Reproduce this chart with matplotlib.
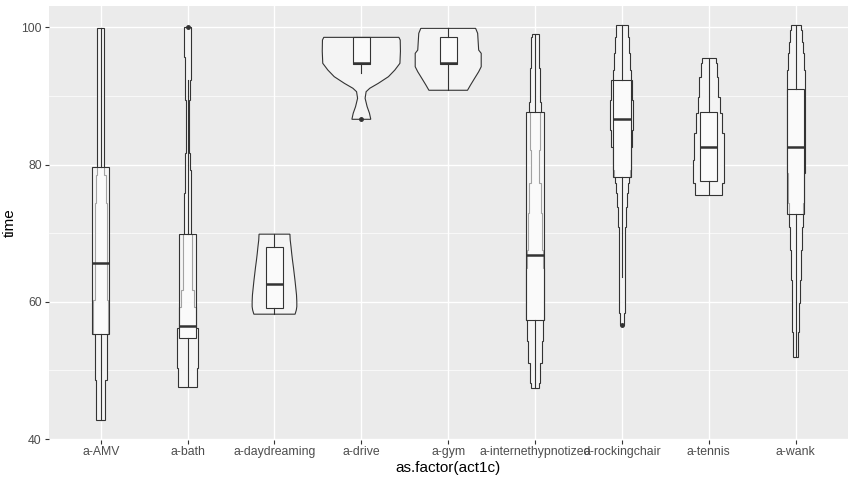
import numpy as np
import matplotlib
matplotlib.use("Agg")
import matplotlib.pyplot as plt
from matplotlib.ticker import MultipleLocator

plt.rcParams['font.family'] = ['Liberation Sans', 'DejaVu Sans']

cats = ["a-AMV", "a-bath", "a-daydreaming", "a-drive", "a-gym",
        "a-internethypnotized", "a-rockingchair", "a-tennis", "a-wank"]

# violin outlines: y levels (top -> bottom) and relative density (half width)
# len(y) == len(d)+1 -> stepped outline, len(y) == len(d) -> smooth outline
amv_y = [99.9, 78.49, 74.37, 60.29, 55.29, 48.6, 42.8]
amv_d = [3.5, 4.8, 6.0, 7.2, 5.8, 4.5]
bath_y = [100.0, 95.72, 92.33, 89.41, 81.65, 79.22, 75.83, 69.9, 61.74, 59.31, 56.17, 50.34, 47.58]
bath_d = [3.7, 3.0, 2.3, 1.3, 2.2, 3.0, 3.8, 4.7, 6.5, 8.7, 10.2, 9.2]
day_y = [69.86, 69.0, 68.0, 67.0, 66.0, 65.0, 64.0, 63.0, 62.0, 61.0, 60.0, 59.3, 58.8, 58.2]
day_d = [15.2, 15.5, 16.3, 17.0, 17.8, 18.7, 19.5, 20.3, 21.0, 21.7, 22.0, 22.0, 21.5, 20.3]
drive_y = [98.54, 98.15, 96.5, 94.76, 93.78, 92.81, 91.84, 91.12, 90.62, 89.66, 88.44, 87.48, 86.6]
drive_d = [37.0, 38.3, 38.5, 38.0, 33.0, 26.7, 16.7, 8.3, 4.7, 3.7, 5.7, 8.0, 9.3]
gym_y = [99.85, 99.13, 96.69, 96.21, 94.26, 93.53, 92.57, 91.6, 90.83]
gym_d = [27.0, 29.0, 30.0, 32.5, 32.5, 30.0, 26.0, 22.0, 19.0]
inet_y = [98.98, 98.63, 94.03, 89.17, 87.62, 82.13, 77.28, 72.91, 67.57, 64.9, 57.28, 54.22, 51.07, 48.16, 47.43]
inet_d = [3.5, 4.2, 5.2, 5.8, 4.7, 4.2, 5.7, 6.7, 8.2, 8.6, 7.7, 7.0, 5.0, 4.0]
rock_y = [100.29, 98.64, 96.21, 93.78, 92.28, 89.41, 85.04, 82.61, 80.68, 79.22, 78.2, 77.28,
          75.83, 73.88, 72.42, 70.96, 58.35, 56.65]
rock_d = [6.0, 7.0, 8.0, 9.0, 10.3, 11.3, 10.3, 9.0, 8.5, 7.5, 6.5, 5.8, 5.0, 4.3, 3.8, 3.0, 2.3]
ten_y = [95.48, 94.76, 92.81, 89.9, 87.48, 84.56, 80.68, 77.28, 75.53]
ten_d = [7.0, 8.0, 9.3, 11.0, 13.0, 15.0, 15.3, 13.3]
wank_y = [100.29, 99.61, 97.91, 96.21, 93.78, 78.74, 74.37, 72.77, 70.96, 67.57, 63.2, 59.81, 55.67, 51.94]
wank_d = [5.0, 6.0, 7.0, 8.0, 8.7, 8.0, 6.8, 7.0, 6.0, 4.8, 3.8, 3.2, 2.3]

violin_y = [amv_y, bath_y, day_y, drive_y, gym_y, inet_y, rock_y, ten_y, wank_y]
violin_d = [amv_d, bath_d, day_d, drive_d, gym_d, inet_d, rock_d, ten_d, wank_d]

# boxplot stats
whislo = [42.8, 47.58, 58.2, 93.3, 90.83, 47.43, 63.68, 75.53, 51.94]
q1 = [55.29, 54.71, 59.08, 94.6, 94.61, 57.28, 78.2, 77.57, 72.77]
med = [65.68, 56.55, 62.62, 94.8, 94.84, 66.84, 86.65, 82.57, 82.57]
q3 = [79.61, 69.9, 68.05, 98.54, 98.54, 87.62, 92.28, 87.62, 90.97]
whishi = [99.9, 92.33, 69.86, 98.54, 99.85, 98.98, 100.29, 95.48, 100.29]
fliers = [[], [100.0], [], [86.6], [], [], [56.65], [], []]

fig = plt.figure(figsize=(8.53, 4.8), dpi=100)
ax = fig.add_axes([0.057, 0.0842, 0.9369, 0.9041])
ax.set_facecolor('#EBEBEB')

dmax = max(max(d) for d in violin_d)
pos = np.arange(1, len(cats) + 1)

for i, (ys, ds) in enumerate(zip(violin_y, violin_d)):
    if len(ys) == len(ds) + 1:
        yy, ww = [], []
        for k, d in enumerate(ds):
            yy += [ys[k], ys[k + 1]]
            ww += [d, d]
    else:
        yy, ww = list(ys), list(ds)
    yy = np.array(yy)
    ww = np.array(ww) / dmax * 0.45
    xs = np.concatenate([pos[i] + ww, (pos[i] - ww)[::-1]])
    ys2 = np.concatenate([yy, yy[::-1]])
    ax.fill(xs, ys2, facecolor='#F4F4F4', edgecolor='#333333', linewidth=0.8, zorder=2)

stats = []
for i in range(len(cats)):
    stats.append(dict(whislo=whislo[i], q1=q1[i], med=med[i], q3=q3[i],
                      whishi=whishi[i], fliers=fliers[i]))

ax.bxp(stats, positions=pos, widths=0.2, patch_artist=True, showcaps=False,
       boxprops=dict(facecolor=(1, 1, 1, 0.55), edgecolor='#333333', linewidth=0.8),
       medianprops=dict(color='#333333', linewidth=1.8, solid_capstyle='butt'),
       whiskerprops=dict(color='#333333', linewidth=0.8),
       flierprops=dict(marker='o', markersize=2.5, markerfacecolor='#333333',
                       markeredgecolor='#333333', linestyle='none'),
       zorder=3)

allv = [v for ys in violin_y for v in ys]
lo, hi = min(allv), max(allv)
pad = 0.05 * (hi - lo)
ax.set_ylim(lo - pad, hi + pad)
ax.set_xlim(0.4, len(cats) + 0.6)

ax.set_xticks(pos)
ax.set_xticklabels(cats)
ax.yaxis.set_major_locator(MultipleLocator(20))
ax.yaxis.set_minor_locator(MultipleLocator(10))

ax.set_axisbelow(True)
ax.grid(which='major', color='white', linewidth=1.0)
ax.grid(which='minor', axis='y', color='white', linewidth=0.5)
for s in ax.spines.values():
    s.set_visible(False)

ax.tick_params(axis='both', which='major', length=2.75, width=0.8, color='#333333',
               labelcolor='#4D4D4D', labelsize=8.8, pad=2.2)
ax.tick_params(axis='y', which='minor', length=0)

ax.set_xlabel('as.factor(act1c)', fontsize=11, color='black', labelpad=2)
ax.set_ylabel('time', fontsize=11, color='black')
ax.yaxis.set_label_coords(-0.0395, 0.5)

fig.savefig('out.png', dpi=100)
